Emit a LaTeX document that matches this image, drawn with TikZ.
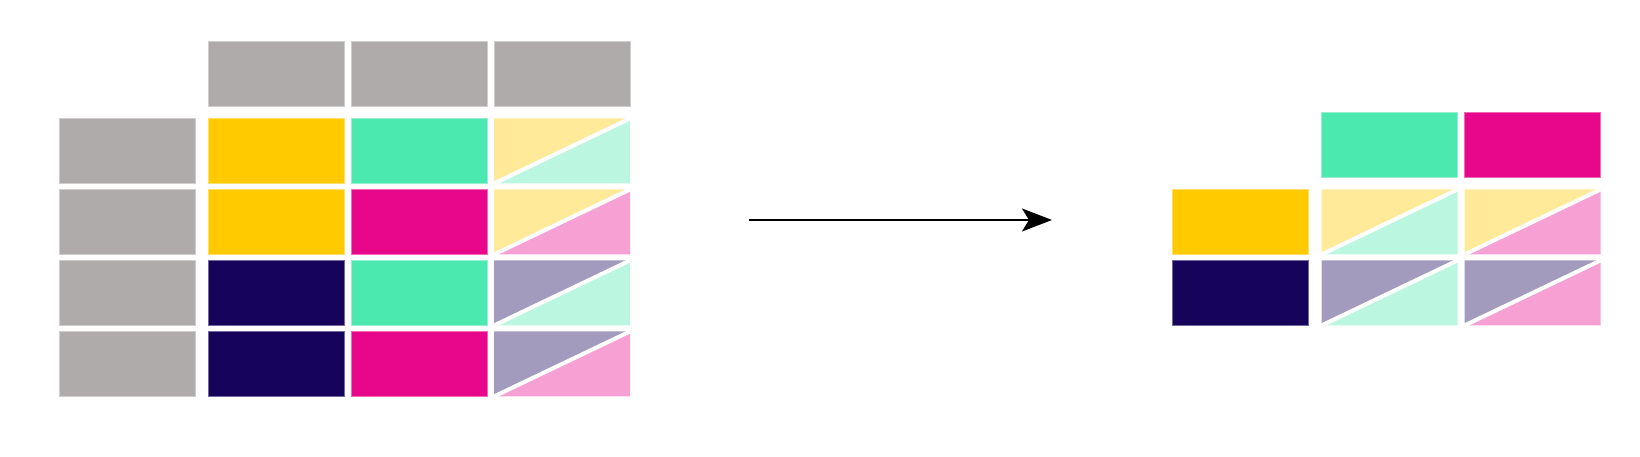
\documentclass[tikz,border=0pt]{standalone}
\usepackage{tikz}
\usetikzlibrary{arrows.meta}
\usepackage{xcolor}
\definecolor{keygray}{HTML}{AFABAA}
\definecolor{sunyellow}{HTML}{FFCA00}
\definecolor{mintgreen}{HTML}{4BE8AF}
\definecolor{hotpink}{HTML}{E8068A}
\definecolor{deepnavy}{HTML}{16045A}
\tikzset{
  blankcell/.style={minimum width=13.6mm,minimum height=6.5mm,inner sep=0pt,outer sep=0pt},
  cell/.style={blankcell,fill=#1,draw=#1!60!white,line width=0.25pt},
}
% split cell: name, position, upper colour, lower colour
\newcommand{\halfcell}[4]{%
  \node[blankcell] (#1) at (#2) {};
  \fill[#3!40!white] (#1.south west) -- (#1.north east) -- (#1.north west) -- cycle;
  \fill[#4!38!white] (#1.south west) -- (#1.north east) -- (#1.south east) -- cycle;
  \draw[white,line width=0.4mm] (#1.south west) -- (#1.north east);
}

\begin{document}
\begin{tikzpicture}[x=0.1mm,y=-0.1mm,>={Stealth[length=3mm,width=2.3mm,inset=0.7mm]}]
\useasboundingbox (0,0) rectangle (1640,457);
% wide table
\node[cell=keygray] (lh1) at (276,73.5) {};
\node[cell=keygray] (lh2) at (419,73.5) {};
\node[cell=keygray] (lh3) at (562,73.5) {};
\node[cell=keygray] (lk1) at (127,151) {};
\node[cell=keygray] (lk2) at (127,222) {};
\node[cell=keygray] (lk3) at (127,293) {};
\node[cell=keygray] (lk4) at (127,364) {};
\node[cell=sunyellow] (la1) at (276,151) {};
\node[cell=sunyellow] (la2) at (276,222) {};
\node[cell=deepnavy] (la3) at (276,293) {};
\node[cell=deepnavy] (la4) at (276,364) {};
\node[cell=mintgreen] (lb1) at (419,151) {};
\node[cell=hotpink] (lb2) at (419,222) {};
\node[cell=mintgreen] (lb3) at (419,293) {};
\node[cell=hotpink] (lb4) at (419,364) {};
\halfcell{lc1}{562,151}{sunyellow}{mintgreen}
\halfcell{lc2}{562,222}{sunyellow}{hotpink}
\halfcell{lc3}{562,293}{deepnavy}{mintgreen}
\halfcell{lc4}{562,364}{deepnavy}{hotpink}
% pivoted table
\node[cell=mintgreen] (rh1) at (1389.5,144.5) {};
\node[cell=hotpink] (rh2) at (1532.5,144.5) {};
\node[cell=sunyellow] (rk1) at (1240.5,222) {};
\node[cell=deepnavy] (rk2) at (1240.5,293) {};
\halfcell{rc11}{1389.5,222}{sunyellow}{mintgreen}
\halfcell{rc12}{1532.5,222}{sunyellow}{hotpink}
\halfcell{rc21}{1389.5,293}{deepnavy}{mintgreen}
\halfcell{rc22}{1532.5,293}{deepnavy}{hotpink}
\coordinate (from) at (749,220);
\coordinate (to) at (1052,220);
\draw[->,line width=0.55pt] (from) -- (to);
\end{tikzpicture}
\end{document}
